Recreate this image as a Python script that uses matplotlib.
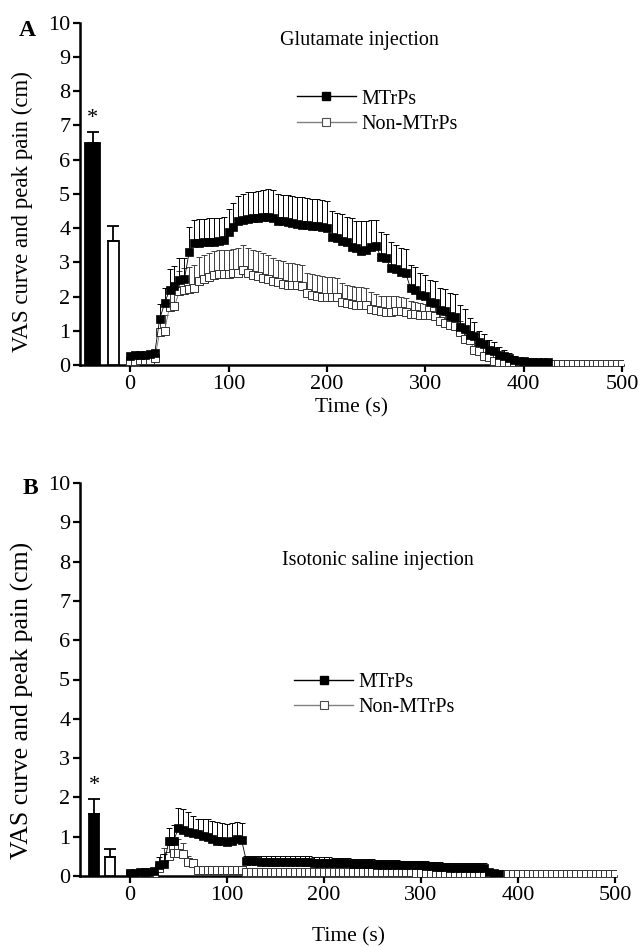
import numpy as np
import matplotlib
matplotlib.use("Agg")
import matplotlib.pyplot as plt
from matplotlib.lines import Line2D

plt.rcParams['font.family'] = ['Liberation Serif', 'DejaVu Serif']

# ---------------- data ----------------
time_s = list(range(0, 505, 5))

# Peak pain bars
bar_groups = ["MTrPs", "Non-MTrPs"]
glu_peak = [6.5, 3.62]
glu_peak_sem = [0.30, 0.45]
sal_peak = [1.58, 0.48]
sal_peak_sem = [0.38, 0.20]

nan = np.nan
glu_mtrps = [0.27, 0.28, 0.30, 0.30, 0.32, 0.35, 1.35, 1.80, 2.20, 2.30, 2.47, 2.50,
             3.30, 3.55, 3.56, 3.58, 3.60, 3.60, 3.62, 3.65, 3.88, 4.02, 4.20, 4.25,
             4.27, 4.28, 4.30, 4.32, 4.33, 4.30, 4.22, 4.20, 4.18, 4.15, 4.12, 4.10,
             4.08, 4.06, 4.05, 4.03, 4.00, 3.75, 3.72, 3.62, 3.58, 3.46, 3.42, 3.34,
             3.35, 3.46, 3.48, 3.15, 3.12, 2.82, 2.80, 2.73, 2.70, 2.24, 2.20, 2.05,
             2.02, 1.85, 1.82, 1.62, 1.58, 1.43, 1.40, 1.12, 1.05, 0.88, 0.85, 0.68,
             0.62, 0.44, 0.40, 0.29, 0.25, 0.20, 0.15, 0.12, 0.11, 0.10, 0.10, 0.10,
             0.10, 0.09, nan, nan, nan, nan, nan, nan, nan, nan, nan, nan, nan, nan,
             nan, nan, nan]
glu_mtrps_sem = [0.05, 0.05, 0.05, 0.05, 0.05, 0.05, 0.43, 0.45, 0.60, 0.58, 0.65, 0.62,
                 0.72, 0.70, 0.70, 0.68, 0.68, 0.68, 0.67, 0.66, 0.67, 0.72, 0.75, 0.76,
                 0.78, 0.78, 0.79, 0.80, 0.80, 0.80, 0.78, 0.78, 0.79, 0.80, 0.80, 0.80,
                 0.80, 0.80, 0.80, 0.80, 0.80, 0.75, 0.72, 0.78, 0.75, 0.84, 0.80, 0.86,
                 0.85, 0.78, 0.76, 0.75, 0.70, 0.78, 0.72, 0.70, 0.70, 0.68, 0.66, 0.63,
                 0.62, 0.64, 0.64, 0.64, 0.65, 0.68, 0.66, 0.63, 0.60, 0.48, 0.42, 0.30,
                 0.30, 0.30, 0.27, 0.24, 0.18, 0.14, 0.10, 0.05, 0.05, 0.05, 0.05, 0.05,
                 0.05, 0.05, nan, nan, nan, nan, nan, nan, nan, nan, nan, nan, nan, nan,
                 nan, nan, nan]
glu_non = [0.13, 0.13, 0.14, 0.14, 0.15, 0.20, 0.95, 1.00, 1.70, 1.72, 2.15, 2.20,
           2.22, 2.25, 2.45, 2.50, 2.58, 2.62, 2.65, 2.65, 2.65, 2.68, 2.70, 2.78,
           2.70, 2.63, 2.60, 2.55, 2.50, 2.44, 2.42, 2.38, 2.35, 2.34, 2.33, 2.30,
           2.10, 2.05, 2.02, 2.00, 2.00, 2.00, 1.98, 1.85, 1.80, 1.78, 1.76, 1.75,
           1.74, 1.65, 1.60, 1.57, 1.56, 1.56, 1.57, 1.58, 1.56, 1.50, 1.48, 1.47,
           1.46, 1.45, 1.42, 1.30, 1.22, 1.18, 1.15, 0.95, 0.75, 0.72, 0.45, 0.42,
           0.25, 0.22, 0.12, 0.10, 0.06, 0.04, 0.04, 0.04, 0.04, 0.04, 0.04, 0.04,
           0.04, 0.04, 0.04, 0.04, 0.04, 0.04, 0.04, 0.04, 0.04, 0.04, 0.04, 0.04,
           0.04, 0.04, 0.04, 0.04, 0.04]
glu_non_sem = [0.04, 0.04, 0.04, 0.04, 0.04, 0.05, 0.40, 0.45, 0.55, 0.55, 0.60, 0.62,
               0.65, 0.66, 0.70, 0.70, 0.70, 0.70, 0.70, 0.71, 0.72, 0.72, 0.72, 0.72,
               0.72, 0.72, 0.72, 0.72, 0.70, 0.68, 0.66, 0.65, 0.64, 0.63, 0.62, 0.62,
               0.60, 0.60, 0.60, 0.60, 0.58, 0.56, 0.55, 0.54, 0.53, 0.52, 0.52, 0.52,
               0.50, 0.48, 0.46, 0.45, 0.45, 0.45, 0.44, 0.42, 0.40, 0.38, 0.36, 0.34,
               0.32, 0.30, 0.30, 0.32, 0.34, 0.34, 0.34, 0.35, 0.30, 0.28, 0.20, 0.18,
               0.12, 0.10, 0.06, 0.05, 0.03, 0.02, 0.02, 0.02, 0.02, 0.02, 0.02, 0.02,
               0.02, 0.02, 0.02, 0.02, 0.02, 0.02, 0.02, 0.02, 0.02, 0.02, 0.02, 0.02,
               0.02, 0.02, 0.02, 0.02, 0.02]

sal_mtrps = [0.08, 0.08, 0.10, 0.10, 0.10, 0.12, 0.28, 0.30, 0.88, 0.90, 1.22, 1.18,
             1.12, 1.10, 1.08, 1.02, 1.00, 0.95, 0.90, 0.88, 0.87, 0.90, 0.93, 0.92,
             0.38, 0.37, 0.37, 0.36, 0.36, 0.36, 0.36, 0.36, 0.36, 0.35, 0.35, 0.35,
             0.35, 0.35, 0.34, 0.34, 0.34, 0.34, 0.33, 0.33, 0.32, 0.32, 0.31, 0.31,
             0.30, 0.30, 0.30, 0.29, 0.29, 0.29, 0.28, 0.28, 0.28, 0.28, 0.27, 0.27,
             0.27, 0.26, 0.25, 0.24, 0.24, 0.22, 0.21, 0.21, 0.20, 0.20, 0.20, 0.20,
             0.20, 0.20, 0.10, 0.08, 0.06, nan, nan, nan, nan, nan, nan, nan,
             nan, nan, nan, nan, nan, nan, nan, nan, nan, nan, nan, nan,
             nan, nan, nan, nan, nan]
sal_mtrps_sem = [0.03, 0.03, 0.03, 0.03, 0.03, 0.04, 0.20, 0.25, 0.33, 0.40, 0.52, 0.52,
                 0.50, 0.42, 0.38, 0.42, 0.45, 0.45, 0.48, 0.48, 0.46, 0.45, 0.45, 0.44,
                 0.14, 0.14, 0.14, 0.15, 0.15, 0.15, 0.15, 0.15, 0.16, 0.16, 0.15, 0.15,
                 0.15, 0.15, 0.15, 0.15, 0.15, 0.14, 0.14, 0.14, 0.14, 0.13, 0.13, 0.13,
                 0.13, 0.13, 0.12, 0.12, 0.12, 0.12, 0.12, 0.12, 0.11, 0.11, 0.11, 0.11,
                 0.11, 0.11, 0.11, 0.11, 0.11, 0.11, 0.12, 0.12, 0.12, 0.12, 0.12, 0.12,
                 0.12, 0.12, 0.05, 0.04, 0.03, nan, nan, nan, nan, nan, nan, nan,
                 nan, nan, nan, nan, nan, nan, nan, nan, nan, nan, nan, nan,
                 nan, nan, nan, nan, nan]
sal_non = [0.06, 0.06, 0.06, 0.06, 0.06, 0.08, 0.20, 0.45, 0.50, 0.58, 0.58, 0.55,
           0.36, 0.32, 0.15, 0.15, 0.15, 0.15, 0.15, 0.15, 0.15, 0.15, 0.15, 0.15,
           0.10, 0.10, 0.10, 0.10, 0.10, 0.10, 0.10, 0.11, 0.11, 0.11, 0.11, 0.11,
           0.11, 0.11, 0.11, 0.10, 0.10, 0.10, 0.10, 0.10, 0.10, 0.10, 0.10, 0.10,
           0.10, 0.10, 0.10, 0.09, 0.09, 0.09, 0.09, 0.09, 0.09, 0.09, 0.09, 0.08,
           0.08, 0.08, 0.08, 0.08, 0.08, 0.08, 0.08, 0.08, 0.08, 0.08, 0.08, 0.08,
           0.08, 0.08, 0.06, 0.05, 0.04, 0.04, 0.04, 0.04, 0.04, 0.04, 0.04, 0.04,
           0.04, 0.04, 0.04, 0.04, 0.04, 0.04, 0.04, 0.04, 0.04, 0.04, 0.04, 0.04,
           0.04, 0.04, 0.04, 0.04, 0.04]
sal_non_sem = [0.02, 0.02, 0.02, 0.02, 0.02, 0.03, 0.15, 0.25, 0.30, 0.35, 0.35, 0.30,
               0.15, 0.10, 0.05, 0.05, 0.05, 0.05, 0.05, 0.05, 0.05, 0.05, 0.05, 0.05,
               0.08, 0.08, 0.08, 0.10, 0.10, 0.10, 0.10, 0.10, 0.10, 0.10, 0.10, 0.10,
               0.10, 0.10, 0.10, 0.10, 0.10, 0.09, 0.09, 0.09, 0.09, 0.09, 0.08, 0.08,
               0.08, 0.08, 0.08, 0.08, 0.08, 0.08, 0.08, 0.07, 0.07, 0.07, 0.07, 0.07,
               0.07, 0.07, 0.07, 0.07, 0.07, 0.07, 0.06, 0.06, 0.06, 0.06, 0.06, 0.06,
               0.06, 0.06, 0.03, 0.02, 0.02, 0.02, 0.02, 0.02, 0.02, 0.02, 0.02, 0.02,
               0.02, 0.02, 0.02, 0.02, 0.02, 0.02, 0.02, 0.02, 0.02, 0.02, 0.02, 0.02,
               0.02, 0.02, 0.02, 0.02, 0.02]

x_ticks = [0, 100, 200, 300, 400, 500]
y_ticks = list(range(0, 11))

# ---------------- figure ----------------
W, H = 642, 947
fig = plt.figure(figsize=(W / 100, H / 100), dpi=100)


def px_axes(left, right, top, bottom):
    return fig.add_axes([left / W, 1 - bottom / H, (right - left) / W, (bottom - top) / H])


def panel(ax, xlim, peak, peak_sem, bar_pos, bar_w, m, m_sem, n, n_sem,
          title, title_xy, legend_xy, star_y, xlabelpad):
    t = np.array(time_s, dtype=float)
    m = np.array(m, dtype=float)
    m_sem = np.array(m_sem, dtype=float)
    n = np.array(n, dtype=float)
    n_sem = np.array(n_sem, dtype=float)

    colors = ['black', 'white']
    for i in range(2):
        ax.bar(bar_pos[i], peak[i], width=bar_w[i], color=colors[i],
               edgecolor='black', linewidth=1.3, zorder=3)
        ax.errorbar(bar_pos[i], peak[i], yerr=[[0], [peak_sem[i]]], fmt='none',
                    ecolor='black', elinewidth=1.3, capsize=4, capthick=1.3, zorder=3)
    ax.text(bar_pos[0], star_y, '*', ha='center', va='center', fontsize=16)

    ax.errorbar(t, n, yerr=[np.zeros_like(n_sem), n_sem], fmt='none',
                ecolor='0.25', elinewidth=0.7, capsize=2.0, capthick=0.7, zorder=4)
    ax.plot(t, n, color='0.45', lw=0.6, marker='s', ms=5.2, mfc='white',
            mec='0.2', mew=0.7, zorder=5)
    ax.errorbar(t, m, yerr=[np.zeros_like(m_sem), m_sem], fmt='none',
                ecolor='black', elinewidth=0.7, capsize=2.0, capthick=0.7, zorder=6)
    ax.plot(t, m, color='black', lw=0.6, marker='s', ms=5.2, mfc='black',
            mec='black', mew=0.5, zorder=7)

    ax.set_xlim(*xlim)
    ax.set_ylim(0, 10)
    ax.set_xticks(x_ticks)
    ax.set_yticks(y_ticks)
    for s in ['top', 'right']:
        ax.spines[s].set_visible(False)
    for s in ['left', 'bottom']:
        ax.spines[s].set_linewidth(1.8)
    ax.tick_params(axis='both', direction='out', length=5, width=1.6,
                   labelsize=16, pad=2)
    ax.set_xlabel('Time (s)', fontsize=15.5, labelpad=xlabelpad)

    ax.text(title_xy[0], title_xy[1], title, transform=ax.transAxes,
            ha='center', va='center', fontsize=14.5)

    h1 = Line2D([], [], color='black', lw=1.0, marker='s', ms=6, mfc='black', mec='black')
    h2 = Line2D([], [], color='0.5', lw=1.0, marker='s', ms=6, mfc='white', mec='0.3', mew=0.8)
    ax.legend([h1, h2], bar_groups, loc='upper left', bbox_to_anchor=legend_xy,
              frameon=False, fontsize=14.5, handlelength=2.9, handletextpad=0.3,
              borderpad=0, borderaxespad=0, labelspacing=0.3)


axA = px_axes(80, 623, 22.7, 365)
panel(axA, (-51, 501), glu_peak, glu_peak_sem, [-38, -17], [15, 11.5],
      glu_mtrps, glu_mtrps_sem, glu_non, glu_non_sem,
      'Glutamate injection', (0.515, 0.948), (0.40, 0.805), 7.2, 3)

axB = px_axes(80, 616, 483, 876)
panel(axB, (-51.5, 501), sal_peak, sal_peak_sem, [-37, -20.5], [11, 11],
      sal_mtrps, sal_mtrps_sem, sal_non, sal_non_sem,
      'Isotonic saline injection', (0.555, 0.803), (0.40, 0.517), 2.3, 16)

fig.text(27 / W, 1 - 31 / H, 'A', fontsize=17, fontweight='bold', ha='center', va='center')
fig.text(30 / W, 1 - 488 / H, 'B', fontsize=17, fontweight='bold', ha='center', va='center')
fig.text(22 / W, 1 - 212 / H, 'VAS curve and peak pain (cm)', rotation=90,
         fontsize=16.5, ha='center', va='center')
fig.text(22 / W, 1 - 700 / H, 'VAS curve and peak pain (cm)', rotation=90,
         fontsize=18.5, ha='center', va='center')

fig.savefig('out.png', dpi=100)
